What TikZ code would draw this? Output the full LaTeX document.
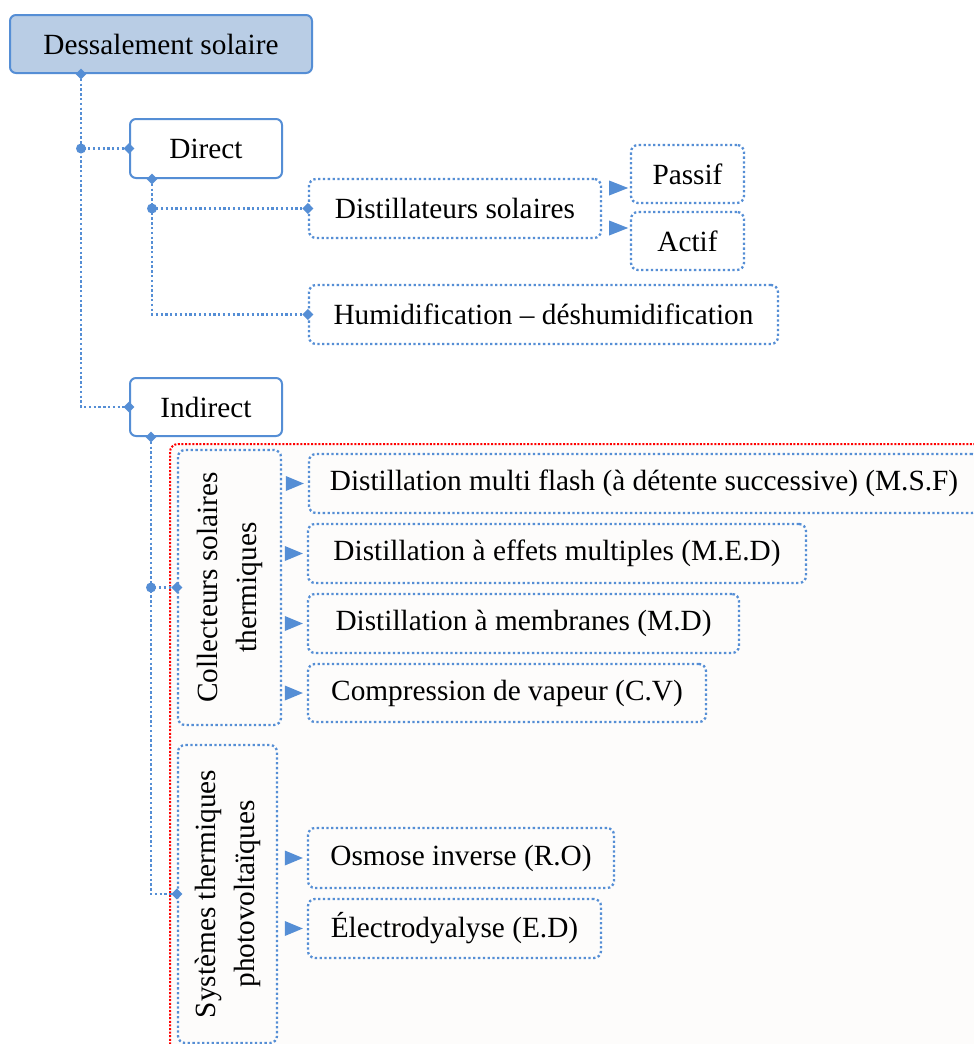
\documentclass[tikz,border=0pt]{standalone}
\usepackage{fontspec}
\setmainfont{Liberation Serif}
\usetikzlibrary{shapes.geometric,calc}
\definecolor{lnblue}{HTML}{558ED5}
\definecolor{topfill}{HTML}{B9CDE5}
\definecolor{paper}{HTML}{FDFCFB}
\begin{document}
\begin{tikzpicture}[x=1pt,y=-1pt,
  font=\fontsize{29.3}{33}\selectfont,
  solidbox/.style={draw=lnblue,line width=2,rounded corners=6,inner sep=0,align=center},
  dotbox/.style={draw=lnblue,line width=2.3,dash pattern=on 2.3pt off 2.5pt,rounded corners=7,inner sep=0,align=center},
  vertbox/.style={dotbox,rotate=90,font=\fontsize{29.3}{39}\selectfont},
  conn/.style={draw=lnblue,line width=2.3,dash pattern=on 2.3pt off 2.5pt},
  dia/.style={diamond,fill=lnblue,inner sep=0,minimum size=11},
  jdot/.style={circle,fill=lnblue,inner sep=0,minimum size=10},
  tri/.style={fill=lnblue}
]
\useasboundingbox (0,0) rectangle (974,1044);
\clip (0,0) rectangle (974,1044);
\fill[white] (0,0) rectangle (974,1044);

% red area
\draw[red,fill=paper,line width=2,dash pattern=on 2pt off 1.6pt,rounded corners=8] (170,444) rectangle (1000,1070);

% nodes
\node[solidbox,fill=topfill,minimum width=302,minimum height=58] (top) at (161,44) {Dessalement solaire};
\node[solidbox,fill=white,minimum width=152,minimum height=59] (direct) at (206,148.5) {Direct};
\node[dotbox,minimum width=292,minimum height=59] (dist) at (455,208.5) {Distillateurs solaires};
\node[dotbox,minimum width=113,minimum height=58] (passif) at (687.5,174) {Passif};
\node[dotbox,minimum width=113,minimum height=58] (actif) at (687.5,241) {Actif};
\node[dotbox,minimum width=469,minimum height=59] (humid) at (543.5,314.5) {Humidification -- déshumidification};
\node[solidbox,fill=white,minimum width=152,minimum height=58] (indirect) at (206,407) {Indirect};

\node[vertbox,minimum width=275,minimum height=103] (coll) at (229.5,587.5) {Collecteurs solaires\\thermiques};
\node[vertbox,minimum width=298,minimum height=99] (sys) at (227.5,894) {Systèmes thermiques\\photovoltaïques};

\node[dotbox,minimum width=670,minimum height=59] (msf) at (644,483.5) {Distillation multi flash (à détente successive) (M.S.F)};
\node[dotbox,minimum width=498,minimum height=59] (med) at (557,553.5) {Distillation à effets multiples (M.E.D)};
\node[dotbox,minimum width=431,minimum height=59] (md) at (523.5,623.5) {Distillation à membranes (M.D)};
\node[dotbox,minimum width=398,minimum height=58] (cv) at (507,693) {Compression de vapeur (C.V)};
\node[dotbox,minimum width=306,minimum height=60] (ro) at (461,858) {Osmose inverse (R.O)};
\node[dotbox,minimum width=293,minimum height=59] (ed) at (454.5,928.5) {Électrodyalyse (E.D)};

% junction coordinates
\coordinate (a0) at ([xshift=72]top.south west);
\coordinate (b0) at ([xshift=23]direct.south west);
\coordinate (c0) at ([xshift=22]indirect.south west);

% connectors
\draw[conn] (a0) |- (direct.west);
\draw[conn] (a0) |- (indirect.west);
\draw[conn] (b0) |- (dist.west);
\draw[conn] (b0) |- (humid.west);
\draw[conn] (c0) |- (coll.north);
\draw[conn] (c0) |- (sys.north);

% junction dots
\node[jdot] at (a0 |- direct.west) {};
\node[jdot] at (b0 |- dist.west) {};
\node[jdot] at (c0 |- coll.north) {};

% diamonds
\foreach \p in {a0,b0,c0,direct.west,indirect.west,dist.west,humid.west,coll.north,sys.north}
  \node[dia] at (\p) {};

% triangles
\fill[tri] ([shift={(7,-28)}]dist.east) -- ++(19,7.5) -- ++(-19,7.5) -- cycle;
\fill[tri] ([shift={(7,12)}]dist.east) -- ++(19,7.5) -- ++(-19,7.5) -- cycle;
\foreach \b in {msf,med,md,cv,ro,ed}
  \fill[tri] ([shift={(-22,-7.5)}]\b.west) -- ++(18,7.5) -- ++(-18,7.5) -- cycle;
\end{tikzpicture}
\end{document}
